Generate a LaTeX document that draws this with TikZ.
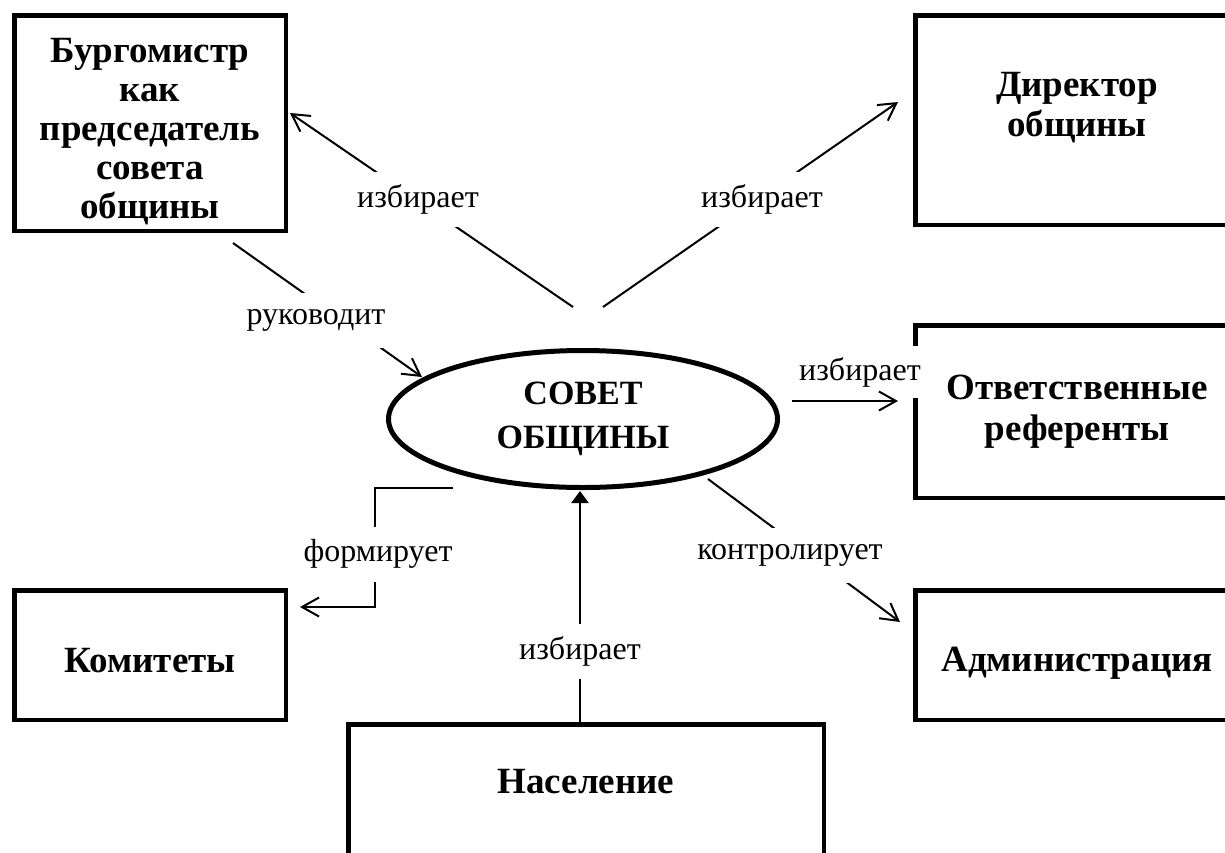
\documentclass[tikz,border=0pt]{standalone}
\usepackage{fontspec}
\setmainfont{Liberation Serif}
\usetikzlibrary{positioning,arrows.meta,shapes.geometric}

% invisible struts to nudge multi-line box texts
\newcommand{\topstrut}[1]{\rule{0pt}{#1}}
\newcommand{\botstrut}[1]{\rule[-#1]{0pt}{#1}}

\begin{document}
\begin{tikzpicture}[
  x=1pt, y=-1pt,
  box/.style={rectangle, draw, line width=4.5pt, align=center, inner sep=0pt,
    font=\bfseries\fontsize{37}{40}\selectfont},
  lbl/.style={fill=white, inner xsep=4pt, inner ysep=0pt, minimum height=55pt,
    font=\fontsize{32}{38}\selectfont},
  arr/.style={line width=2pt, -{Straight Barb[length=17pt,width=19pt]}}
]
\useasboundingbox (0,0) rectangle (1225,852);
\clip (0,0) rectangle (1225,852);

% council
\node[ellipse, draw, line width=5pt, minimum width=389pt, minimum height=137pt,
  inner sep=0pt, align=center, font=\bfseries\fontsize{34}{44}\selectfont]
  (sovet) at (583,419) {СОВЕТ\\ОБЩИНЫ};

% boxes
\node[box, minimum width=271.5pt, minimum height=215.5pt, font=\bfseries\fontsize{37}{39}\selectfont]
  (burg) at (150,123) {\topstrut{41pt}Бургомистр\\как\\председатель\\совета\\общины};
\node[box, minimum width=323.5pt, minimum height=209.5pt] (dir) at (1077,120) {Директор\\общины\botstrut{31pt}};
\node[box, minimum width=323.5pt, minimum height=172.5pt, font=\bfseries\fontsize{37}{41}\selectfont]
  (otv) at (1077,411.5) {Ответственные\\референты};
\node[box, minimum width=271.5pt, minimum height=129.5pt, text height=34pt, text depth=0pt] (kom) at (150,655) {Комитеты};
\node[box, minimum width=323.5pt, minimum height=129.5pt, text height=40pt, text depth=8pt] (adm) at (1077,655) {Администрация};
\node[box, minimum width=475.5pt, minimum height=133.5pt, text height=25pt, text depth=21pt] (nas) at (586,791) {Население};

% free ends of the connectors
\coordinate (a0) at (573,307); \coordinate (a1) at (290,113);
\coordinate (b0) at (603,307); \coordinate (b1) at (898,102);
\coordinate (c0) at (233,243); \coordinate (c1) at (422,377);
\coordinate (d0) at (792,401); \coordinate (d1) at (898,401);
\coordinate (e0) at (708,479); \coordinate (e1) at (900,622);
\coordinate (f0) at (453,488); \coordinate (f1) at (300,607);
\coordinate (g1) at (580,491);

% connectors
\draw[arr] (a0) -- (a1);
\draw[arr] (b0) -- (b1);
\draw[arr] (c0) -- (c1);
\draw[arr] (e0) -- (e1);
\draw[arr] (f0) -- ++(-78,0) |- (f1);
\draw[line width=2.5pt, -{Triangle[length=12pt,width=17pt]}] (g1 |- nas.north) -- (g1);

% labels
\node[lbl] (la) at (418,199) {избирает};
\node[lbl] (lb) at (762,199) {избирает};
\node[lbl] (lc) at (316,320) {руководит};
\node[lbl, minimum height=52pt] (ld) at (860,372) {избирает};
\node[lbl] (le) at (790,555) {контролирует};
\node[lbl] (lf) at (378,554) {формирует};
\node[lbl] (lg) at (580,651) {избирает};

% arrow under its label, drawn last
\draw[arr] (d0) -- (d1);

\end{tikzpicture}
\end{document}
